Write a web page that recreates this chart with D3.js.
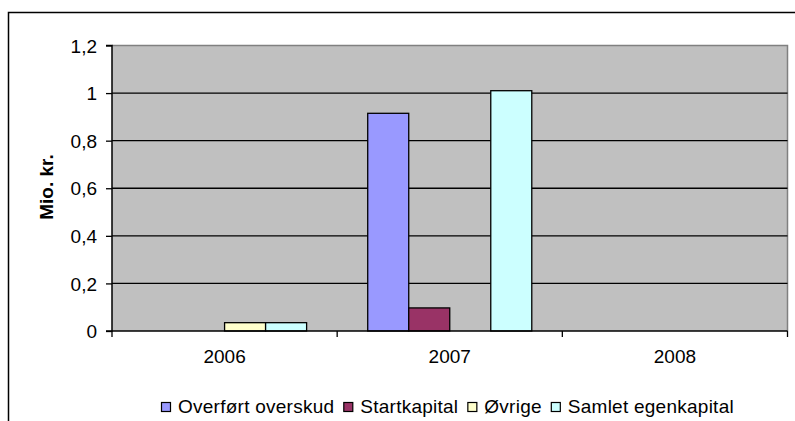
<!DOCTYPE html>
<html><head><meta charset="utf-8">
<script src="https://cdn.jsdelivr.net/npm/d3@7"></script>
<style>body{margin:0;background:#fff}svg{display:block;font-family:"Liberation Sans",Arial,sans-serif}</style>
</head><body><svg id="c" width="795" height="421"></svg>
<script>
const categories = ["2006", "2007", "2008"];
const seriesNames = ["Overført overskud", "Startkapital", "Øvrige", "Samlet egenkapital"];
const overfoert = [0, 0.915, 0];
const startkapital = [0, 0.097, 0];
const oevrige = [0.035, 0, 0];
const samlet = [0.035, 1.01, 0];
const yTicks = [0, 0.2, 0.4, 0.6, 0.8, 1, 1.2];
const colors = ["#9999FF", "#993366", "#FFFFCC", "#CCFFFF"];

const values = [overfoert, startkapital, oevrige, samlet];
const svg = d3.select("#c");
const L = 112, R = 787.5, T = 45.5, B = 331;
const FS = 19;

// outer frame
svg.append("path").attr("d", "M8.5,421 V12.5 H795").attr("fill", "none").attr("stroke", "#000").attr("stroke-width", 1.5);

const x = d3.scaleBand().domain(categories).range([L, R]).paddingInner(0).paddingOuter(0);
const x1 = d3.scaleBand().domain(d3.range(4)).range([0, x.bandwidth()]).paddingOuter(0.745).paddingInner(0);
const y = d3.scaleLinear().domain([0, 1.2]).range([B, T]);

svg.append("rect").attr("x", L).attr("y", T).attr("width", R - L).attr("height", B - T).attr("fill", "#C0C0C0");
svg.append("path").attr("d", `M${L},${T} H${R} V${B}`).attr("fill", "none").attr("stroke", "#808080").attr("stroke-width", 1.5);

// gridlines
svg.append("g").selectAll("line").data(yTicks.filter(d => d > 0 && d < 1.2)).join("line")
  .attr("x1", L).attr("x2", R).attr("y1", d => y(d)).attr("y2", d => y(d))
  .attr("stroke", "#000").attr("stroke-width", 1.3);

// bars
const g = svg.append("g");
categories.forEach((c, ci) => {
  values.forEach((arr, si) => {
    const v = arr[ci];
    if (v <= 0) return;
    g.append("rect")
      .attr("x", x(c) + x1(si)).attr("y", y(v))
      .attr("width", x1.bandwidth()).attr("height", y(0) - y(v))
      .attr("fill", colors[si]).attr("stroke", "#000").attr("stroke-width", 1.3);
  });
});

// y axis
const yAxis = d3.axisLeft(y).tickValues(yTicks).tickSize(6).tickPadding(9)
  .tickFormat(d => d3.format("~g")(d).replace(".", ","));
const ya = svg.append("g").attr("transform", `translate(${L},0)`).call(yAxis);
ya.attr("font-size", null).attr("font-family", null);
ya.select(".domain").attr("stroke", "#000").attr("stroke-width", 1.5).attr("d", `M-6,${T}H0V${B}H-6`);
ya.selectAll(".tick line").attr("stroke", "#000").attr("stroke-width", 1.3);
ya.selectAll("text").attr("font-size", FS).attr("fill", "#000").attr("dy", "0.35em");

// x axis
const xa = svg.append("g").attr("transform", `translate(0,${B})`);
xa.append("line").attr("x1", L).attr("x2", R).attr("stroke", "#000").attr("stroke-width", 1.5);
const bounds = [L, ...categories.map(c => x(c) + x.bandwidth())];
xa.selectAll(".tk").data(bounds).join("line").attr("class", "tk")
  .attr("x1", d => d).attr("x2", d => d).attr("y1", 0).attr("y2", 6).attr("stroke", "#000").attr("stroke-width", 1.3);
xa.selectAll("text").data(categories).join("text")
  .attr("x", d => x(d) + x.bandwidth() / 2).attr("y", 32).attr("text-anchor", "middle")
  .attr("font-size", FS).attr("fill", "#000").text(d => d);

// y title
svg.append("text").attr("transform", "translate(53,187) rotate(-90)").attr("text-anchor", "middle")
  .attr("font-size", FS).attr("font-weight", "bold").text("Mio. kr.");

// legend
const lg = svg.append("g");
let lx = 161;
const ly = 413;
seriesNames.forEach((n, i) => {
  lg.append("rect").attr("x", lx + 0.5).attr("y", ly - 10.5).attr("width", 9).attr("height", 9)
    .attr("fill", colors[i]).attr("stroke", "#000").attr("stroke-width", 1.2);
  const t = lg.append("text").attr("x", lx + 17).attr("y", ly).attr("font-size", FS)
    .attr("letter-spacing", 0.25).text(n);
  lx += 17 + t.node().getComputedTextLength() + 9;
});
</script></body></html>
